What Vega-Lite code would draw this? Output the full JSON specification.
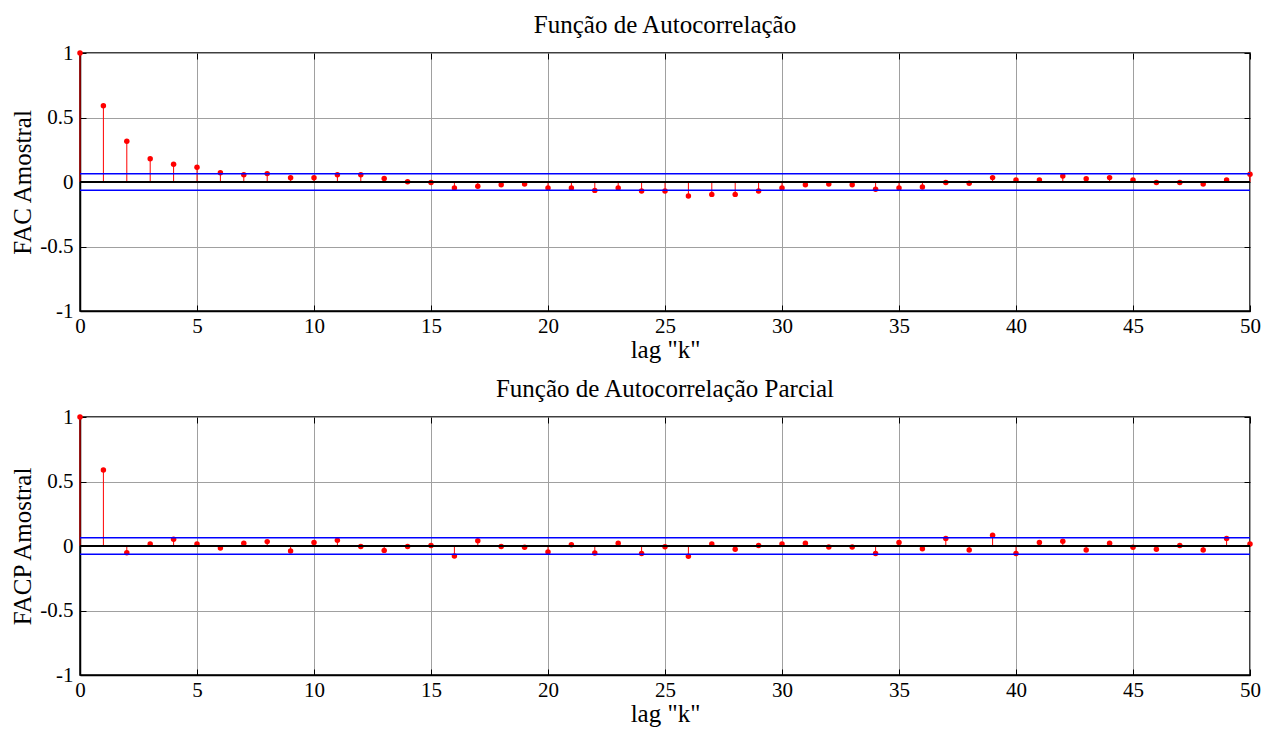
{
  "$schema": "https://vega.github.io/schema/vega-lite/v6.json",
  "background": "white",
  "padding": {"left": 10, "top": 12, "right": 5, "bottom": 5},
  "config": {
    "font": "Liberation Serif",
    "style": {"guide-label": {"font": "Liberation Serif", "fontSize": 21, "fill": "black"}, "guide-title": {"font": "Liberation Serif"}},
    "view": {"stroke": "black", "strokeWidth": 1.5},
    "axis": {
      "labelFont": "Liberation Serif", "labelFontSize": 21, "labelColor": "black",
      "titleFont": "Liberation Serif", "titleFontSize": 25, "titleFontWeight": "normal", "titleColor": "black",
      "domainColor": "black", "domainWidth": 1.5,
      "tickColor": "black", "tickSize": -6, "tickWidth": 1,
      "gridColor": "#a0a0a0", "gridWidth": 1, "gridOpacity": 1,
      "labelFlush": false, "labelOverlap": false
    },
    "axisX": {"labelPadding": 10, "titlePadding": 1},
    "axisY": {"labelPadding": 13, "titlePadding": 4},
    "title": {"font": "Liberation Serif", "fontSize": 25, "fontWeight": "normal", "color": "black", "offset": 4},
    "concat": {"spacing": 13}
  },
  "datasets": {
    "bounds": [{"bound": 0.0645}, {"bound": -0.0645}],
    "acf": [
      {"lag": 0, "r": 1}, {"lag": 1, "r": 0.591}, {"lag": 2, "r": 0.316}, {"lag": 3, "r": 0.181}, {"lag": 4, "r": 0.137},
      {"lag": 5, "r": 0.114}, {"lag": 6, "r": 0.072}, {"lag": 7, "r": 0.057}, {"lag": 8, "r": 0.065}, {"lag": 9, "r": 0.033},
      {"lag": 10, "r": 0.033}, {"lag": 11, "r": 0.057}, {"lag": 12, "r": 0.057}, {"lag": 13, "r": 0.028}, {"lag": 14, "r": 0.002},
      {"lag": 15, "r": -0.004}, {"lag": 16, "r": -0.046}, {"lag": 17, "r": -0.033}, {"lag": 18, "r": -0.021}, {"lag": 19, "r": -0.016},
      {"lag": 20, "r": -0.047}, {"lag": 21, "r": -0.047}, {"lag": 22, "r": -0.065}, {"lag": 23, "r": -0.047}, {"lag": 24, "r": -0.07},
      {"lag": 25, "r": -0.07}, {"lag": 26, "r": -0.109}, {"lag": 27, "r": -0.096}, {"lag": 28, "r": -0.096}, {"lag": 29, "r": -0.07},
      {"lag": 30, "r": -0.047}, {"lag": 31, "r": -0.021}, {"lag": 32, "r": -0.016}, {"lag": 33, "r": -0.021}, {"lag": 34, "r": -0.057},
      {"lag": 35, "r": -0.047}, {"lag": 36, "r": -0.039}, {"lag": 37, "r": -0.003}, {"lag": 38, "r": -0.01}, {"lag": 39, "r": 0.034},
      {"lag": 40, "r": 0.016}, {"lag": 41, "r": 0.016}, {"lag": 42, "r": 0.047}, {"lag": 43, "r": 0.026}, {"lag": 44, "r": 0.034},
      {"lag": 45, "r": 0.016}, {"lag": 46, "r": -0.003}, {"lag": 47, "r": -0.003}, {"lag": 48, "r": -0.016}, {"lag": 49, "r": 0.016},
      {"lag": 50, "r": 0.06}
    ],
    "pacf": [
      {"lag": 0, "r": 1}, {"lag": 1, "r": 0.589}, {"lag": 2, "r": -0.052}, {"lag": 3, "r": 0.016}, {"lag": 4, "r": 0.052},
      {"lag": 5, "r": 0.016}, {"lag": 6, "r": -0.016}, {"lag": 7, "r": 0.021}, {"lag": 8, "r": 0.034}, {"lag": 9, "r": -0.039},
      {"lag": 10, "r": 0.028}, {"lag": 11, "r": 0.044}, {"lag": 12, "r": -0.003}, {"lag": 13, "r": -0.034}, {"lag": 14, "r": -0.003},
      {"lag": 15, "r": 0.004}, {"lag": 16, "r": -0.078}, {"lag": 17, "r": 0.041}, {"lag": 18, "r": -0.003}, {"lag": 19, "r": -0.01},
      {"lag": 20, "r": -0.047}, {"lag": 21, "r": 0.01}, {"lag": 22, "r": -0.054}, {"lag": 23, "r": 0.021}, {"lag": 24, "r": -0.059},
      {"lag": 25, "r": -0.005}, {"lag": 26, "r": -0.08}, {"lag": 27, "r": 0.016}, {"lag": 28, "r": -0.026}, {"lag": 29, "r": 0.003},
      {"lag": 30, "r": 0.016}, {"lag": 31, "r": 0.021}, {"lag": 32, "r": -0.008}, {"lag": 33, "r": -0.008}, {"lag": 34, "r": -0.059},
      {"lag": 35, "r": 0.028}, {"lag": 36, "r": -0.021}, {"lag": 37, "r": 0.059}, {"lag": 38, "r": -0.031}, {"lag": 39, "r": 0.083},
      {"lag": 40, "r": -0.059}, {"lag": 41, "r": 0.028}, {"lag": 42, "r": 0.036}, {"lag": 43, "r": -0.031}, {"lag": 44, "r": 0.021},
      {"lag": 45, "r": -0.01}, {"lag": 46, "r": -0.026}, {"lag": 47, "r": 0.003}, {"lag": 48, "r": -0.031}, {"lag": 49, "r": 0.059},
      {"lag": 50, "r": 0.016}
    ]
  },
  "vconcat": [
    {
      "title": "Função de Autocorrelação",
      "width": 1170, "height": 258,
      "data": {"name": "acf"},
      "resolve": {"axis": {"x": "independent", "y": "independent"}},
      "layer": [
        {
          "mark": {"type": "rule", "color": "#ff0000", "strokeWidth": 1},
          "encoding": {
            "x": {"field": "lag", "type": "quantitative", "scale": {"domain": [0, 50], "nice": false, "zero": false},
                  "axis": {"orient": "bottom", "values": [0,5,10,15,20,25,30,35,40,45,50], "labelExpr": "'' + datum.value", "labelFont": "Liberation Serif", "title": "lag \"k\"", "grid": true}},
            "y": {"field": "r", "type": "quantitative", "scale": {"domain": [-1, 1], "nice": false},
                  "axis": {"orient": "left", "values": [-1,-0.5,0,0.5,1], "labelExpr": "'' + datum.value", "labelFont": "Liberation Serif", "title": "FAC Amostral", "grid": true}},
            "y2": {"datum": 0}
          }
        },
        {
          "mark": {"type": "point", "filled": true, "color": "#ff0000", "size": 30, "opacity": 1},
          "encoding": {
            "x": {"field": "lag", "type": "quantitative",
                  "axis": {"orient": "top", "values": [0,5,10,15,20,25,30,35,40,45,50], "labels": false, "title": null, "grid": false, "domain": false}},
            "y": {"field": "r", "type": "quantitative",
                  "axis": {"orient": "right", "values": [-1,-0.5,0,0.5,1], "labels": false, "title": null, "grid": false, "domain": false}}
          }
        },
        {
          "mark": {"type": "rule", "color": "black", "strokeWidth": 2},
          "encoding": {"y": {"datum": 0, "axis": null}}
        },
        {
          "data": {"name": "bounds"},
          "mark": {"type": "rule", "color": "#0000ff", "strokeWidth": 1.5},
          "encoding": {"y": {"field": "bound", "type": "quantitative", "axis": null}}
        }
      ]
    },
    {
      "title": "Função de Autocorrelação Parcial",
      "width": 1170, "height": 258,
      "data": {"name": "pacf"},
      "resolve": {"axis": {"x": "independent", "y": "independent"}},
      "layer": [
        {
          "mark": {"type": "rule", "color": "#ff0000", "strokeWidth": 1},
          "encoding": {
            "x": {"field": "lag", "type": "quantitative", "scale": {"domain": [0, 50], "nice": false, "zero": false},
                  "axis": {"orient": "bottom", "values": [0,5,10,15,20,25,30,35,40,45,50], "labelExpr": "'' + datum.value", "labelFont": "Liberation Serif", "title": "lag \"k\"", "grid": true}},
            "y": {"field": "r", "type": "quantitative", "scale": {"domain": [-1, 1], "nice": false},
                  "axis": {"orient": "left", "values": [-1,-0.5,0,0.5,1], "labelExpr": "'' + datum.value", "labelFont": "Liberation Serif", "title": "FACP Amostral", "grid": true}},
            "y2": {"datum": 0}
          }
        },
        {
          "mark": {"type": "point", "filled": true, "color": "#ff0000", "size": 30, "opacity": 1},
          "encoding": {
            "x": {"field": "lag", "type": "quantitative",
                  "axis": {"orient": "top", "values": [0,5,10,15,20,25,30,35,40,45,50], "labels": false, "title": null, "grid": false, "domain": false}},
            "y": {"field": "r", "type": "quantitative",
                  "axis": {"orient": "right", "values": [-1,-0.5,0,0.5,1], "labels": false, "title": null, "grid": false, "domain": false}}
          }
        },
        {
          "mark": {"type": "rule", "color": "black", "strokeWidth": 2},
          "encoding": {"y": {"datum": 0, "axis": null}}
        },
        {
          "data": {"name": "bounds"},
          "mark": {"type": "rule", "color": "#0000ff", "strokeWidth": 1.5},
          "encoding": {"y": {"field": "bound", "type": "quantitative", "axis": null}}
        }
      ]
    }
  ]
}
